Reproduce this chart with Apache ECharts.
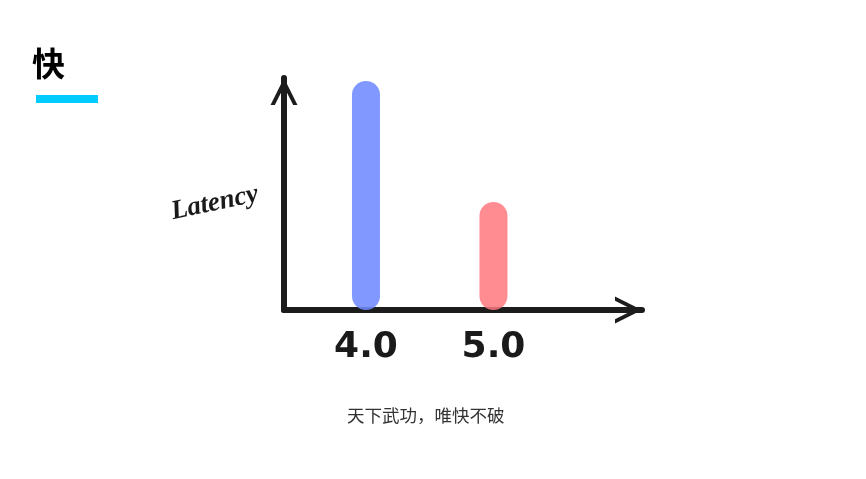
<!DOCTYPE html>
<html>
<head>
<meta charset="utf-8">
<script src="https://cdn.jsdelivr.net/npm/echarts@6/dist/echarts.min.js"></script>
<style>html,body{margin:0;padding:0;background:#fff}#c{width:866px;height:479px}</style>
</head>
<body>
<div id="c"></div>
<script>
const versions = [4.0, 5.0];
const latency = [9.87, 4.66];
const barColors = ['rgba(110,138,255,0.88)', 'rgba(255,120,126,0.85)'];
const titleText = '快';
const subText = '天下武功，唯快不破';
const yName = 'Latency';

const chevron = 'path://M5,10 L0,20 L1.6,20 L5,13.2 L8.4,20 L10,20 Z M5,0 L5.02,0 L5,0.02 Z';

const chart = echarts.init(document.getElementById('c'));
chart.setOption({
  backgroundColor: '#fff',
  animation: false,
  title: [
    { text: titleText, left: 27, top: 42, textStyle: { fontSize: 33, fontWeight: 'bold', color: '#000', fontFamily: 'Noto Sans CJK SC' } },
    { text: subText, left: 342, top: 402, textStyle: { fontSize: 17.5, fontWeight: 'normal', color: '#333', fontFamily: 'Noto Sans CJK SC' } }
  ],
  graphic: [
    { type: 'rect', shape: { x: 36, y: 95, width: 62, height: 8 }, style: { fill: '#00ccff' } }
  ],
  grid: { left: 284, right: 224, top: 78, bottom: 169 },
  xAxis: {
    type: 'value', min: 3.357, max: 6.165,
    splitLine: { show: false },
    axisTick: { show: false },
    axisLine: { show: true, symbol: ['none', chevron], symbolSize: [32, 54],
      lineStyle: { color: '#1c1c1c', width: 6, cap: 'round' } },
    axisLabel: { customValues: versions, formatter: v => v.toFixed(1), margin: 20,
      fontSize: 36, fontWeight: 'bold', color: '#1a1a1a', fontFamily: 'DejaVu Sans' }
  },
  yAxis: {
    type: 'value', min: 0, max: 10,
    name: yName, nameLocation: 'middle', nameGap: 26, nameRotate: 12,
    nameTextStyle: { fontSize: 27, fontStyle: 'italic', fontWeight: 'bold', color: '#1a1a1a', fontFamily: 'Liberation Serif' },
    splitLine: { show: false },
    axisTick: { show: false },
    axisLabel: { show: false },
    axisLine: { show: true, symbol: ['none', chevron], symbolSize: [32, 54],
      lineStyle: { color: '#1c1c1c', width: 6, cap: 'round' } }
  },
  series: [{
    type: 'bar',
    barWidth: 28,
    z: 1,
    data: versions.map((v, i) => ({ value: [v, latency[i]], itemStyle: { color: barColors[i], borderRadius: 14 } }))
  }]
});
</script>
</body>
</html>
